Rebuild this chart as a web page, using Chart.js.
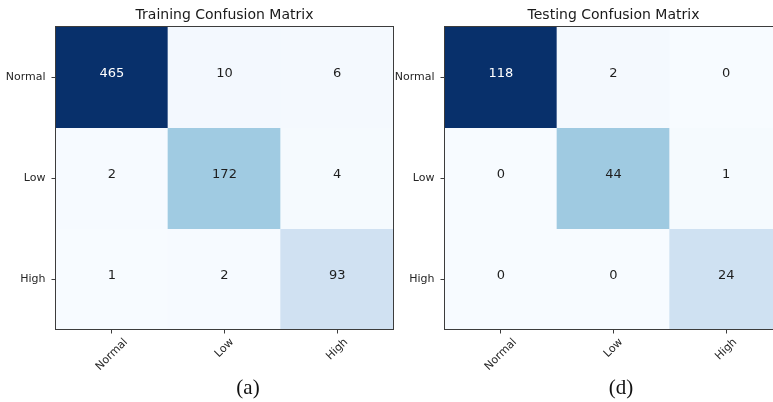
<!DOCTYPE html>
<html>
<head>
<meta charset="utf-8">
<script src="https://cdn.jsdelivr.net/npm/chart.js@4.4.1/dist/chart.umd.min.js"></script>
<style>
  html, body { margin: 0; padding: 0; background: #fff; overflow: hidden; width: 773px; height: 402px; }
  .panel { position: absolute; top: 0; width: 400px; height: 402px; }
  .caption {
    position: absolute; font-family: "Liberation Serif", "Times New Roman", serif;
    font-size: 21px; color: #111; transform: translate(-50%, -50%); white-space: nowrap;
  }
</style>
</head>
<body>
<div class="panel" style="left:0"><canvas id="trainChart"></canvas></div>
<div class="panel" style="left:389px"><canvas id="testChart"></canvas></div>
<div class="caption" style="left:248px; top:387px">(a)</div>
<div class="caption" style="left:621px; top:387px">(d)</div>

<script>
// Class names (rows = true class, columns = predicted class)
const classLabels = ['Normal', 'Low', 'High'];

// Training confusion matrix rows
const trainNormal = [465, 10, 6];
const trainLow    = [2, 172, 4];
const trainHigh   = [1, 2, 93];

// Testing confusion matrix rows
const testNormal = [118, 2, 0];
const testLow    = [0, 44, 1];
const testHigh   = [0, 0, 24];

const trainingMatrix = [trainNormal, trainLow, trainHigh];
const testingMatrix  = [testNormal, testLow, testHigh];

// Sequential "Blues" colour ramp
const bluesStops = ['#f7fbff', '#deebf7', '#c6dbef', '#9ecae1', '#6baed6',
                    '#4292c6', '#2171b5', '#08519c', '#08306b'];
function hexToRgb(h) {
  return [parseInt(h.slice(1, 3), 16), parseInt(h.slice(3, 5), 16), parseInt(h.slice(5, 7), 16)];
}
function blues(t) {
  t = Math.max(0, Math.min(1, t));
  const seg = t * (bluesStops.length - 1);
  const i = Math.min(Math.floor(seg), bluesStops.length - 2);
  const f = seg - i;
  const a = hexToRgb(bluesStops[i]), b = hexToRgb(bluesStops[i + 1]);
  const c = a.map((v, k) => Math.round(v + (b[k] - v) * f));
  return `rgb(${c[0]},${c[1]},${c[2]})`;
}

const TEXT_FONT = '"DejaVu Sans", Verdana, sans-serif';

// Writes each count in the middle of its cell
const cellTextPlugin = {
  id: 'cellText',
  afterDatasetsDraw(chart) {
    const ctx = chart.ctx;
    const vmax = chart.options.plugins.cellText.vmax;
    ctx.save();
    ctx.font = `13px ${TEXT_FONT}`;
    ctx.textAlign = 'center';
    ctx.textBaseline = 'middle';
    chart.data.datasets.forEach((ds, di) => {
      chart.getDatasetMeta(di).data.forEach((bar, ci) => {
        const v = ds.cellValues[ci];
        ctx.fillStyle = v > vmax / 2 ? '#ffffff' : '#1e1e1e';
        ctx.fillText(String(v), bar.x, (bar.y + bar.base) / 2 - 3);
      });
    });
    ctx.restore();
  }
};

// Frame around the plotting area and 45° rotated column labels
const framePlugin = {
  id: 'frame',
  afterDraw(chart) {
    const ctx = chart.ctx;
    const a = chart.chartArea;
    ctx.save();
    ctx.strokeStyle = '#3c3c3c';
    ctx.lineWidth = 1;
    ctx.strokeRect(a.left, a.top, a.right - a.left, a.bottom - a.top);

    const xs = chart.scales.x;
    ctx.font = `11px ${TEXT_FONT}`;
    ctx.fillStyle = '#262626';
    ctx.textAlign = 'center';
    ctx.textBaseline = 'middle';
    const s = Math.SQRT1_2;
    xs.getLabels().forEach((lab, i) => {
      const w = ctx.measureText(lab).width;
      const half = (w + 7) * s / 2;
      const cx = xs.getPixelForTick(i);
      const cy = a.bottom + 8.5 + half;
      ctx.save();
      ctx.translate(cx, cy);
      ctx.rotate(-Math.PI / 4);
      ctx.fillText(lab, 0, 0);
      ctx.restore();
    });
    ctx.restore();
  }
};

function buildChart(canvasId, titleText, matrix) {
  const vmax = Math.max(...matrix.flat());
  const datasets = matrix.map((row, r) => ({
    label: classLabels[r],
    data: row.map(() => [r, r + 1]),
    cellValues: row,
    backgroundColor: row.map(v => blues(v / vmax)),
    borderWidth: 0,
    barPercentage: 1,
    categoryPercentage: 1,
    grouped: false,
    inflateAmount: 0.5
  }));

  return new Chart(document.getElementById(canvasId), {
    type: 'bar',
    data: { labels: classLabels, datasets },
    plugins: [cellTextPlugin, framePlugin],
    options: {
      responsive: true,
      maintainAspectRatio: false,
      animation: false,
      events: [],
      layout: { padding: { left: 0, right: 6.5, top: 0, bottom: 0 } },
      plugins: {
        legend: { display: false },
        tooltip: { enabled: false },
        cellText: { vmax },
        title: {
          display: true,
          text: titleText,
          fullSize: false,
          color: '#1a1a1a',
          font: { family: TEXT_FONT, size: 14, weight: 'normal', lineHeight: 1.2 },
          padding: { top: 7.2, bottom: 2.5 }
        }
      },
      scales: {
        x: {
          type: 'category',
          offset: true,
          grid: { display: true, drawOnChartArea: false, drawTicks: true, tickLength: 4,
                  tickColor: '#3c3c3c', offset: false },
          border: { display: false },
          ticks: { display: false },
          afterFit(scale) { scale.height = 72.5; }
        },
        y: {
          type: 'linear',
          min: 0,
          max: 3,
          reverse: true,
          grid: { display: true, drawOnChartArea: false, drawTicks: true, tickLength: 4,
                  tickColor: '#3c3c3c' },
          border: { display: false },
          afterBuildTicks(scale) {
            scale.ticks = classLabels.map((_, i) => ({ value: i + 0.5 }));
          },
          ticks: {
            color: '#262626',
            font: { family: TEXT_FONT, size: 11 },
            padding: 6,
            callback: (value, index) => classLabels[index]
          },
          afterFit(scale) { scale.width = 55.5; }
        }
      }
    }
  });
}

buildChart('trainChart', 'Training Confusion Matrix', trainingMatrix);
buildChart('testChart', 'Testing Confusion Matrix', testingMatrix);
</script>
</body>
</html>
